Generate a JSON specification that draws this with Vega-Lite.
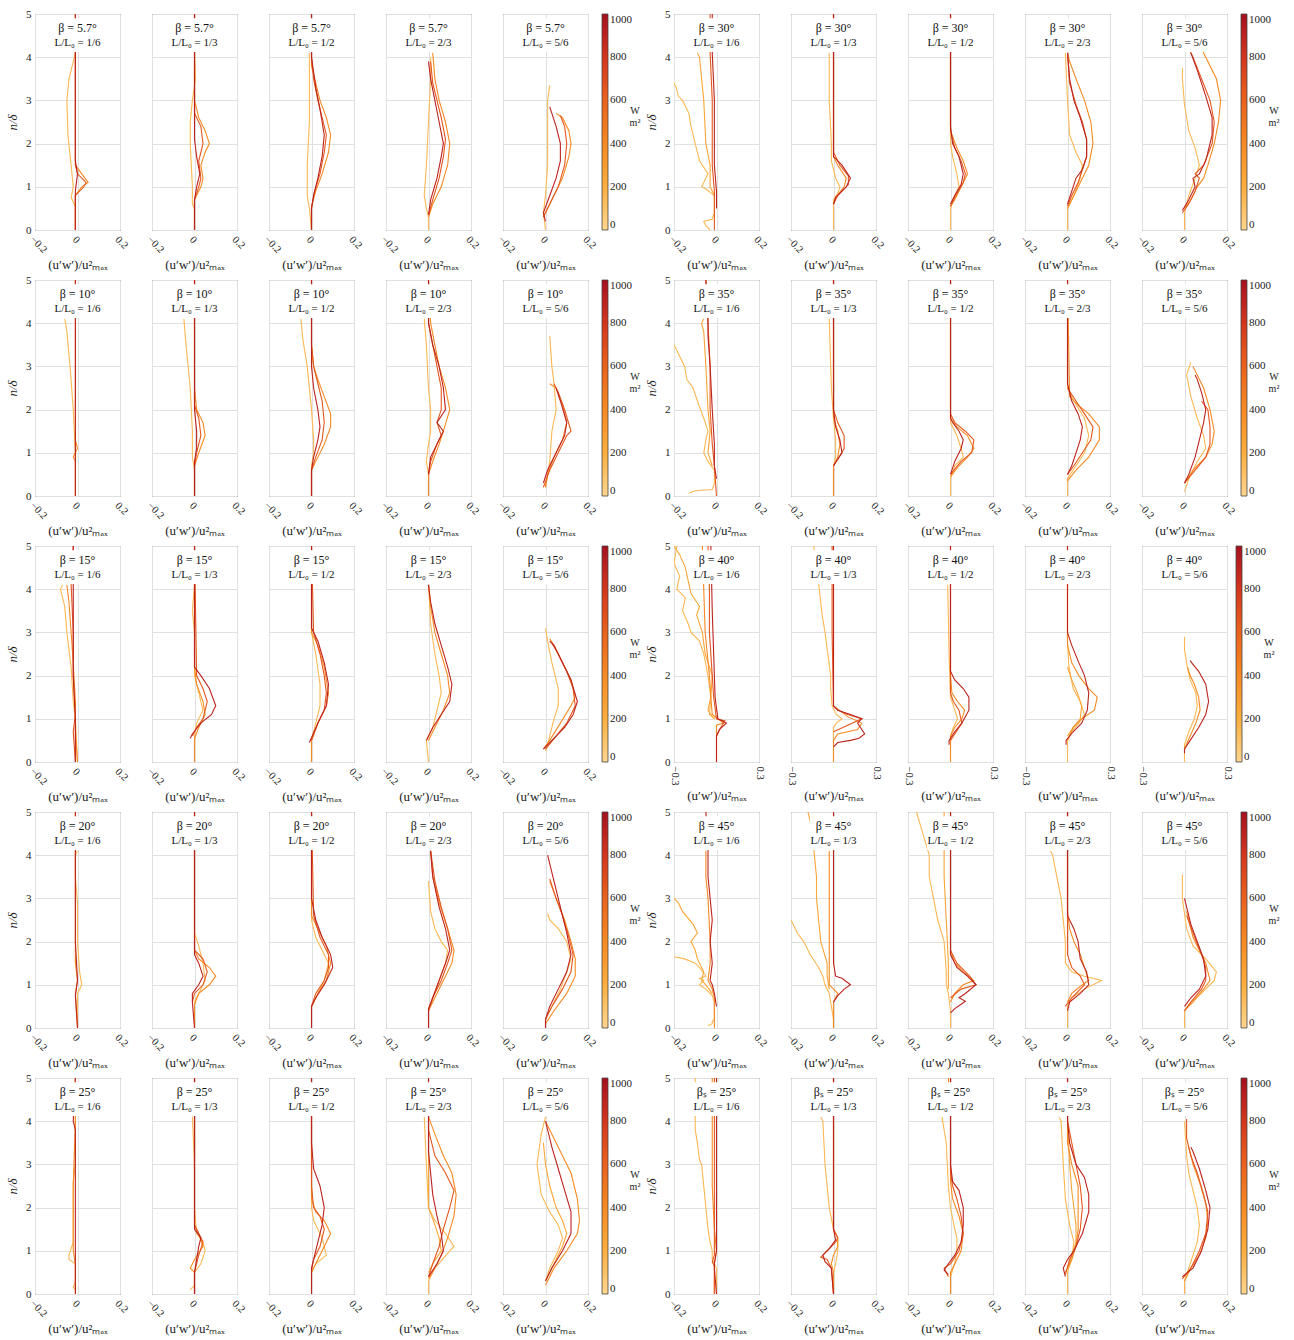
{
"$schema":"https://vega.github.io/schema/vega-lite/v6.json",
"background":"white",
"padding":{"left":6,"top":8,"right":0,"bottom":0},
"config":{
 "font":"Liberation Serif",
 "view":{"stroke":"#444","strokeWidth":1},
 "axis":{"labelFont":"Liberation Serif","titleFont":"Liberation Serif","labelFontSize":11,"titleFontSize":13,"titleFontWeight":"normal","labelColor":"#222","titleColor":"#222","gridColor":"#e0e0e0","domain":false,"ticks":false,"labelPadding":3},
 "axisX":{"labelAngle":45,"titlePadding":4,"labelFontSize":10.5,"labelOverlap":false,"labelSeparation":-60,"labelExpr":"datum.value == 0 ? '0' : datum.label"},
 "axisY":{"titleFontStyle":"italic","titlePadding":6},
 "legend":{"gradientLength":216,"gradientThickness":6,"offset":4,"labelFont":"Liberation Serif","labelFontSize":11,"labelColor":"#222","titleFont":"Liberation Serif","titleFontSize":10,"titleFontWeight":"normal","titleColor":"#222","titleOrient":"right","titleAnchor":"middle","titlePadding":3,"gradientStrokeColor":"#444","gradientStrokeWidth":0.8,"labelOffset":3},
 "text":{"font":"Liberation Serif","color":"#111"}
},
"datasets":{
"fr":[{"c":1,"f":"L/L₀ = 1/6"},{"c":2,"f":"L/L₀ = 1/3"},{"c":3,"f":"L/L₀ = 1/2"},{"c":4,"f":"L/L₀ = 2/3"},{"c":5,"f":"L/L₀ = 5/6"}],
"d":[
{"k":"L1","c":1,"w":150,"x":[-0.01,-0.01,-0.03,-0.02,-0.03,-0.045,-0.05,-0.04,-0.02,-0.01],"y":[0,0.55,0.75,1.0,1.5,2.2,3.0,3.5,3.9,4.1]},
{"k":"L1","c":1,"w":400,"x":[-0.01,-0.01,0.02,0.05,0.02,-0.01,-0.01,-0.01],"y":[0,0.8,1.0,1.1,1.3,1.5,4.0,5]},
{"k":"L1","c":1,"w":650,"x":[-0.01,-0.01,0.03,0.04,0,-0.01,-0.01],"y":[0,0.8,1.0,1.1,1.3,1.5,5]},
{"k":"L1","c":1,"w":900,"x":[-0.01,-0.01,0,-0.01,-0.01],"y":[0,0.9,1.3,1.6,5]},
{"k":"L1","c":2,"w":150,"x":[0,0,-0.01,-0.01,-0.015,-0.02,-0.02,-0.01,0.005,0],"y":[0,0.5,0.6,1.0,1.5,2.0,2.5,3.0,3.5,4.1]},
{"k":"L1","c":2,"w":400,"x":[0,0,0.03,0.04,0.03,0.05,0.07,0.05,0.02,0,0],"y":[0,0.7,1.0,1.2,1.5,1.8,2.0,2.3,2.6,3.0,5]},
{"k":"L1","c":2,"w":650,"x":[0,0,0.02,0.03,0.02,0.04,0.03,0,0],"y":[0,0.7,1.0,1.2,1.6,2.0,2.4,2.7,5]},
{"k":"L1","c":2,"w":900,"x":[0,0,0.01,0.025,0.01,0,0],"y":[0,0.7,1.0,1.3,1.7,2.1,5]},
{"k":"L1","c":3,"w":150,"x":[0,-0.01,-0.02,-0.02,-0.01,-0.01,-0.01],"y":[0,0.5,0.8,1.5,2.5,3.5,4.1]},
{"k":"L1","c":3,"w":400,"x":[0,0,0.02,0.05,0.08,0.09,0.07,0.04,0.02,0,0],"y":[0,0.55,0.9,1.3,1.8,2.2,2.6,3.0,3.4,3.8,5]},
{"k":"L1","c":3,"w":650,"x":[0,0,0.015,0.04,0.06,0.07,0.05,0.03,0.01,0,0],"y":[0,0.5,0.9,1.3,1.8,2.2,2.6,3.0,3.5,4.0,5]},
{"k":"L1","c":3,"w":900,"x":[0,0,0.01,0.03,0.05,0.06,0.04,0.02,0,0],"y":[0,0.5,0.8,1.2,1.7,2.2,2.8,3.3,4.0,5]},
{"k":"L1","c":4,"w":150,"x":[0,0,-0.01,-0.02,-0.01,0,0.01,0.01],"y":[0,0.3,0.5,0.8,1.5,2.5,3.5,4.0]},
{"k":"L1","c":4,"w":400,"x":[0,0.02,0.06,0.09,0.1,0.08,0.05,0.03,0.02],"y":[0.3,0.6,1.0,1.5,2.0,2.5,3.0,3.5,4.1]},
{"k":"L1","c":4,"w":650,"x":[0,0.02,0.05,0.07,0.08,0.06,0.04,0.02,0.01],"y":[0.35,0.7,1.2,1.7,2.1,2.6,3.0,3.4,3.9]},
{"k":"L1","c":4,"w":900,"x":[0,0.01,0.04,0.06,0.07,0.05,0.03,0.01,0],"y":[0.35,0.7,1.2,1.7,2.0,2.5,3.0,3.5,3.9]},
{"k":"L1","c":5,"w":150,"x":[0,-0.01,0,0.01,0.01,0.01,0.02],"y":[0,0.4,0.8,1.5,2.3,3.0,3.35]},
{"k":"L1","c":5,"w":400,"x":[-0.01,0.03,0.08,0.11,0.12,0.11,0.08,0.05],"y":[0.3,0.7,1.2,1.7,2.0,2.3,2.6,2.7]},
{"k":"L1","c":5,"w":650,"x":[-0.01,0.02,0.06,0.09,0.1,0.09,0.07],"y":[0.3,0.6,1.0,1.5,2.0,2.4,2.65]},
{"k":"L1","c":5,"w":900,"x":[0,-0.01,0.02,0.05,0.07,0.07,0.05,0.02],"y":[0.2,0.4,0.8,1.2,1.6,2.0,2.4,2.85]},
{"k":"L2","c":1,"w":150,"x":[-0.01,-0.01,-0.015,-0.02,-0.035,-0.05,-0.06],"y":[0,0.9,1.5,2.0,3.0,3.8,4.1]},
{"k":"L2","c":1,"w":400,"x":[-0.01,-0.01,-0.02,0,-0.01,-0.01],"y":[0,0.8,0.9,1.1,1.3,5]},
{"k":"L2","c":1,"w":900,"x":[-0.01,-0.01],"y":[0,5]},
{"k":"L2","c":2,"w":150,"x":[0,0,-0.01,-0.01,-0.02,-0.04,-0.05],"y":[0,0.6,0.9,1.5,2.5,3.5,4.1]},
{"k":"L2","c":2,"w":400,"x":[0,0,0.02,0.05,0.04,0.01,0,0],"y":[0,0.7,1.0,1.4,1.7,2.0,2.5,5]},
{"k":"L2","c":2,"w":650,"x":[0,0,0.01,0.03,0.02,0,0],"y":[0,0.7,1.0,1.4,1.8,2.1,5]},
{"k":"L2","c":2,"w":900,"x":[0,0,0.01,0.01,0,0],"y":[0,0.8,1.1,1.5,2.0,5]},
{"k":"L2","c":3,"w":150,"x":[0,0,0.01,0.01,0,-0.02,-0.04,-0.05],"y":[0,0.7,1.0,1.3,2.0,3.0,3.6,4.1]},
{"k":"L2","c":3,"w":400,"x":[0,0,0.03,0.06,0.09,0.09,0.06,0.03,0.01,0,0],"y":[0,0.6,0.9,1.2,1.6,1.9,2.3,2.7,3.0,3.5,5]},
{"k":"L2","c":3,"w":650,"x":[0,0,0.02,0.05,0.06,0.05,0.03,0.01,0,0],"y":[0,0.6,0.9,1.3,1.7,2.2,2.6,3.0,3.5,5]},
{"k":"L2","c":3,"w":900,"x":[0,0,0.01,0.03,0.04,0.03,0.01,0,0],"y":[0,0.6,0.9,1.3,1.6,2.0,2.5,3.0,5]},
{"k":"L2","c":4,"w":150,"x":[0,0,-0.01,0,0.01,0.01,0,-0.01,-0.02],"y":[0,0.5,0.8,1.2,1.5,2.0,2.5,3.5,4.1]},
{"k":"L2","c":4,"w":400,"x":[0,0,0.02,0.05,0.07,0.1,0.08,0.05,0.03,0.01,0],"y":[0,0.5,0.8,1.2,1.5,2.0,2.5,3.0,3.5,4.0,5]},
{"k":"L2","c":4,"w":650,"x":[0,0.01,0.04,0.06,0.04,0.06,0.06,0.04,0.02,0,0],"y":[0.5,0.8,1.2,1.4,1.7,2.0,2.5,3.0,3.5,4.0,5]},
{"k":"L2","c":4,"w":900,"x":[0,0.01,0.05,0.07,0.04,0.08,0.07,0.05,0.02,0,0],"y":[0.5,0.9,1.3,1.5,1.7,2.0,2.5,3.0,3.5,4.0,5]},
{"k":"L2","c":5,"w":150,"x":[0,0.02,0.03,0.05,0.04,0.03,0.02],"y":[0.2,0.8,1.5,2.0,2.6,3.0,3.7]},
{"k":"L2","c":5,"w":400,"x":[0,0.01,0.04,0.08,0.1,0.08,0.05,0.02],"y":[0.2,0.5,0.9,1.3,1.7,2.1,2.5,2.6]},
{"k":"L2","c":5,"w":650,"x":[-0.01,0.02,0.06,0.1,0.12,0.09,0.06,0.04],"y":[0.2,0.6,1.0,1.4,1.5,2.0,2.4,2.6]},
{"k":"L2","c":5,"w":900,"x":[-0.01,0.01,0.05,0.09,0.1,0.07,0.05],"y":[0.3,0.6,1.0,1.4,1.7,2.2,2.5]},
{"k":"L3","c":1,"w":150,"x":[0,-0.01,-0.02,-0.03,-0.05,-0.06,-0.08,-0.07],"y":[0,1.0,1.4,2.2,3.0,3.6,4.0,4.1]},
{"k":"L3","c":1,"w":400,"x":[0,-0.01,-0.01,-0.02,-0.03,-0.04,-0.05],"y":[0,0.7,1.4,2.3,3.0,3.7,4.1]},
{"k":"L3","c":1,"w":650,"x":[-0.01,-0.02,-0.01,-0.02,-0.02,-0.03,-0.02],"y":[0,0.7,1.1,2.0,3.0,4.1,5]},
{"k":"L3","c":1,"w":900,"x":[-0.01,-0.01,-0.02,-0.02,-0.02,-0.02],"y":[0,1.0,2.0,3.0,4.1,5]},
{"k":"L3","c":2,"w":150,"x":[0,0,0.01,0.04,0.02,0,0,-0.01,0],"y":[0,0.6,0.9,1.2,1.6,2.0,3.0,3.5,4.1]},
{"k":"L3","c":2,"w":400,"x":[0,0,0.02,0.05,0.04,0.01,0,0],"y":[0,0.55,0.8,1.1,1.4,1.8,2.2,5]},
{"k":"L3","c":2,"w":650,"x":[-0.01,0.01,0.04,0.06,0.04,0.01,0],"y":[0.6,0.8,1.0,1.4,1.7,2.0,5]},
{"k":"L3","c":2,"w":900,"x":[-0.02,-0.01,0.03,0.08,0.1,0.07,0.03,0,0],"y":[0.55,0.65,0.9,1.1,1.3,1.7,2.0,2.2,5]},
{"k":"L3","c":3,"w":150,"x":[0,0,0.02,0.04,0.04,0.02,0,0],"y":[0,0.5,0.9,1.3,1.8,2.5,3.0,4.1]},
{"k":"L3","c":3,"w":400,"x":[0,0,0.03,0.07,0.08,0.06,0.03,0,0],"y":[0,0.5,0.9,1.3,1.6,2.2,2.7,3.0,5]},
{"k":"L3","c":3,"w":650,"x":[0,0.03,0.06,0.07,0.06,0.04,0.01,0],"y":[0.5,0.9,1.2,1.6,2.0,2.5,3.0,5]},
{"k":"L3","c":3,"w":900,"x":[-0.01,0.03,0.07,0.08,0.06,0.03,0,0],"y":[0.45,0.9,1.3,1.8,2.3,2.8,3.1,5]},
{"k":"L3","c":4,"w":150,"x":[0,-0.01,0.02,0.04,0.06,0.05,0.03,0.01,0],"y":[0,0.5,0.8,1.2,1.6,2.0,2.5,3.2,4.1]},
{"k":"L3","c":4,"w":400,"x":[0,0.03,0.07,0.1,0.09,0.06,0.03,0.01,0],"y":[0.5,0.8,1.2,1.6,2.0,2.5,3.0,3.6,4.1]},
{"k":"L3","c":4,"w":900,"x":[-0.01,0.02,0.06,0.1,0.11,0.09,0.06,0.03,0.01,0],"y":[0.5,0.8,1.1,1.4,1.8,2.2,2.7,3.2,3.7,4.1]},
{"k":"L3","c":5,"w":150,"x":[0,0.02,0.04,0.06,0.06,0.03,0.01,0],"y":[0.25,0.6,1.0,1.3,1.7,2.3,2.8,3.1]},
{"k":"L3","c":5,"w":400,"x":[-0.01,0.02,0.07,0.12,0.14,0.12,0.08,0.04,0.02],"y":[0.3,0.5,0.9,1.3,1.5,1.9,2.3,2.7,2.85]},
{"k":"L3","c":5,"w":650,"x":[0,0.05,0.1,0.14,0.13,0.1,0.06,0.03],"y":[0.3,0.6,0.9,1.3,1.7,2.1,2.5,2.75]},
{"k":"L3","c":5,"w":900,"x":[-0.01,0.03,0.09,0.13,0.15,0.12,0.08,0.04,0.02],"y":[0.3,0.5,0.8,1.1,1.4,1.9,2.3,2.7,2.8]},
{"k":"L4","c":1,"w":150,"x":[0,0,0.02,0.01,0,0,-0.01,-0.01,0],"y":[0,0.8,1.0,1.3,2.0,2.9,3.5,4.0,4.1]},
{"k":"L4","c":1,"w":400,"x":[0,-0.01,0,-0.01,-0.01],"y":[0,0.8,1.1,1.5,5]},
{"k":"L4","c":1,"w":900,"x":[0,-0.01,0,-0.01,-0.01],"y":[0,0.75,1.1,2.0,5]},
{"k":"L4","c":2,"w":150,"x":[0,0,0.02,0.05,0.04,0.02,0,0],"y":[0,0.6,0.8,1.1,1.5,1.9,2.2,4.1]},
{"k":"L4","c":2,"w":400,"x":[0,0,0.02,0.07,0.1,0.07,0.02,0,0],"y":[0,0.55,0.8,1.0,1.2,1.4,1.6,1.8,5]},
{"k":"L4","c":2,"w":650,"x":[-0.01,0,0.04,0.06,0.04,0,0],"y":[0.6,0.8,1.0,1.3,1.6,1.8,5]},
{"k":"L4","c":2,"w":900,"x":[0,-0.01,-0.01,0.02,0.04,0.02,0,0],"y":[0,0.6,0.8,1.0,1.2,1.5,1.7,5]},
{"k":"L4","c":3,"w":150,"x":[0,0,0.03,0.06,0.08,0.05,0.02,0,0],"y":[0,0.5,0.8,1.1,1.5,1.8,2.1,2.5,4.1]},
{"k":"L4","c":3,"w":400,"x":[0,0.03,0.07,0.09,0.07,0.03,0,0],"y":[0.5,0.8,1.1,1.5,1.9,2.3,2.6,5]},
{"k":"L4","c":3,"w":650,"x":[0,0.02,0.06,0.08,0.08,0.04,0.01,0],"y":[0.5,0.8,1.1,1.4,1.7,2.1,2.6,5]},
{"k":"L4","c":3,"w":900,"x":[0,0,0.02,0.06,0.1,0.09,0.05,0.02,0,0],"y":[0,0.5,0.7,1.0,1.4,1.7,2.1,2.5,3.0,5]},
{"k":"L4","c":4,"w":150,"x":[0,0,0.02,0.05,0.08,0.09,0.06,0.03,0.01,0],"y":[0,0.4,0.7,1.1,1.5,1.8,2.0,2.3,2.7,3.4]},
{"k":"L4","c":4,"w":400,"x":[0,0.03,0.07,0.11,0.12,0.09,0.05,0.02,0.01],"y":[0.4,0.7,1.1,1.5,1.8,2.3,2.9,3.5,4.1]},
{"k":"L4","c":4,"w":650,"x":[0,0.02,0.06,0.09,0.11,0.09,0.06,0.03,0.01],"y":[0.4,0.7,1.1,1.5,1.8,2.3,2.8,3.4,4.1]},
{"k":"L4","c":4,"w":900,"x":[0,0,0.02,0.05,0.08,0.1,0.08,0.05,0.02,0.01],"y":[0,0.45,0.7,1.1,1.5,1.8,2.3,2.8,3.5,4.1]},
{"k":"L4","c":5,"w":150,"x":[0,0,0.03,0.07,0.1,0.12,0.1,0.06,0.02,0.01],"y":[0,0.2,0.5,0.9,1.3,1.6,2.0,2.3,2.5,2.65]},
{"k":"L4","c":5,"w":400,"x":[0,0.04,0.1,0.14,0.14,0.12,0.09,0.05,0.02],"y":[0.1,0.4,0.8,1.2,1.6,2.0,2.5,3.0,3.4]},
{"k":"L4","c":5,"w":650,"x":[0,0.03,0.08,0.12,0.13,0.11,0.08,0.05,0.02],"y":[0.2,0.5,0.9,1.3,1.7,2.1,2.6,3.0,3.45]},
{"k":"L4","c":5,"w":900,"x":[0,0,0.02,0.06,0.1,0.12,0.1,0.07,0.04,0.01],"y":[0,0.2,0.5,0.9,1.3,1.7,2.2,2.8,3.4,4.0]},
{"k":"L5","c":1,"w":150,"x":[-0.01,-0.02,-0.01,-0.01,-0.04,-0.04,-0.02,-0.02,-0.02,-0.01,-0.01],"y":[0.1,0.15,0.3,0.7,0.8,0.9,1.2,2.0,2.6,3.0,4.1]},
{"k":"L5","c":1,"w":400,"x":[-0.01,-0.01,-0.02,-0.02,-0.01,-0.01],"y":[0,0.7,1.0,2.5,4.0,5]},
{"k":"L5","c":1,"w":900,"x":[-0.01,-0.01,-0.02,-0.01],"y":[0,3.8,4.0,5]},
{"k":"L5","c":2,"w":150,"x":[-0.02,0,0,0.03,0.05,0.04,0.01,0,0,-0.01],"y":[0.1,0.2,0.5,0.7,1.0,1.2,1.4,2.0,3.0,4.1]},
{"k":"L5","c":2,"w":400,"x":[0,0,-0.02,0,0.04,0.02,0,0],"y":[0,0.5,0.6,0.8,1.1,1.4,1.6,5]},
{"k":"L5","c":2,"w":650,"x":[0,0,0.02,0.04,0.02,0,0],"y":[0,0.5,0.9,1.2,1.4,1.6,5]},
{"k":"L5","c":2,"w":900,"x":[0,0,0.01,0.02,0.03,0,0],"y":[0,0.5,0.8,1.1,1.3,1.5,5]},
{"k":"L5","c":3,"w":150,"x":[0,0,0.02,0.07,0.05,0.01,0,0],"y":[0,0.5,0.7,0.9,1.3,1.7,2.0,4.1]},
{"k":"L5","c":3,"w":400,"x":[0,0.03,0.06,0.09,0.06,0.02,0,0],"y":[0.5,0.8,1.1,1.4,1.7,1.9,2.2,5]},
{"k":"L5","c":3,"w":650,"x":[0,0.01,0.04,0.06,0.04,0.01,0,0],"y":[0.55,0.8,1.1,1.5,1.8,2.0,2.5,5]},
{"k":"L5","c":3,"w":900,"x":[0,0,0.01,0.03,0.05,0.06,0.04,0.01,0,0],"y":[0,0.6,0.8,1.2,1.6,2.0,2.5,2.9,3.5,5]},
{"k":"L5","c":4,"w":150,"x":[0,0,0.03,0.1,0.12,0.08,0.03,0,-0.01,-0.02],"y":[0,0.3,0.6,1.0,1.1,1.4,1.7,2.0,3.0,4.1]},
{"k":"L5","c":4,"w":250,"x":[0,0.02,0.06,0.05,0.03,0,0],"y":[0.5,0.7,1.0,1.3,1.6,2.0,4.1]},
{"k":"L5","c":4,"w":400,"x":[0,0.03,0.06,0.09,0.12,0.13,0.11,0.07,0.03,0],"y":[0.35,0.6,0.9,1.3,1.8,2.3,2.8,3.2,3.7,4.1]},
{"k":"L5","c":4,"w":650,"x":[0,0.02,0.05,0.07,0.1,0.12,0.08,0.03,0],"y":[0.4,0.7,1.1,1.5,2.0,2.4,2.8,3.2,3.8]},
{"k":"L5","c":4,"w":900,"x":[0,0.04,0.07,0.06,0.04,0.02,0.01,0,0],"y":[0.4,0.7,1.0,1.4,1.8,2.3,2.8,3.3,5]},
{"k":"L5","c":5,"w":150,"x":[0,0.02,0.06,0.08,0.06,0.02,-0.02,-0.04,-0.02,0],"y":[0.3,0.6,1.0,1.3,1.6,1.9,2.3,3.0,3.7,4.1]},
{"k":"L5","c":5,"w":250,"x":[0,0.04,0.08,0.1,0.08,0.05,0.02,0,-0.01],"y":[0.3,0.7,1.1,1.4,1.7,2.0,2.5,3.0,3.5]},
{"k":"L5","c":5,"w":400,"x":[0,0.04,0.1,0.15,0.16,0.15,0.12,0.07,0.03,0],"y":[0.2,0.6,1.0,1.4,1.7,2.2,2.8,3.3,3.7,4.0]},
{"k":"L5","c":5,"w":900,"x":[0,0.03,0.08,0.12,0.12,0.09,0.06,0.03,0],"y":[0.3,0.6,1.0,1.4,1.9,2.4,2.9,3.4,4.0]},
{"k":"R1","c":1,"w":150,"x":[-0.03,-0.05,-0.06,-0.02,-0.01,-0.01,-0.05,-0.07,-0.06,-0.04,-0.08,-0.1,-0.12,-0.13,-0.16,-0.18,-0.19,-0.2],"y":[0,0.1,0.2,0.25,0.4,0.8,0.95,1.0,1.1,1.3,1.6,2.0,2.4,2.7,3.0,3.1,3.3,3.4]},
{"k":"R1","c":1,"w":250,"x":[-0.01,-0.03,-0.03,-0.05,-0.06,-0.07,-0.08,-0.09],"y":[0.8,1.0,1.5,2.0,3.0,3.5,4.0,4.1]},
{"k":"R1","c":1,"w":650,"x":[-0.01,-0.01,-0.02,-0.02,-0.03,-0.03],"y":[0,0.9,1.5,3.0,4.1,5]},
{"k":"R1","c":1,"w":900,"x":[0,0,-0.01,-0.01,-0.02,-0.02],"y":[0.5,0.9,1.5,3.0,4.1,5]},
{"k":"R1","c":2,"w":150,"x":[0,0,0.02,0.03,0.01,-0.01,-0.01,-0.02,-0.02],"y":[0,0.7,0.85,1.0,1.2,1.6,2.0,3.0,4.1]},
{"k":"R1","c":2,"w":400,"x":[0,0.01,0.05,0.06,0.02,0,0],"y":[0.6,0.75,1.0,1.2,1.5,1.7,5]},
{"k":"R1","c":2,"w":650,"x":[0,0.02,0.07,0.07,0.03,0,0],"y":[0.6,0.8,1.05,1.25,1.5,1.8,5]},
{"k":"R1","c":2,"w":900,"x":[0,0.01,0.06,0.08,0.04,0,0],"y":[0.6,0.75,1.0,1.2,1.5,1.7,5]},
{"k":"R1","c":3,"w":150,"x":[0,0,0.02,0.04,0.03,0.01,0,0],"y":[0,0.5,0.8,1.0,1.3,1.7,2.0,4.1]},
{"k":"R1","c":3,"w":400,"x":[0,0.02,0.05,0.08,0.06,0.03,0,0],"y":[0.55,0.7,1.0,1.3,1.6,1.9,2.3,5]},
{"k":"R1","c":3,"w":650,"x":[0,0.02,0.06,0.07,0.05,0.02,0,0],"y":[0.55,0.75,1.1,1.3,1.6,1.9,2.3,5]},
{"k":"R1","c":3,"w":900,"x":[0,0.02,0.05,0.06,0.04,0.01,0,0],"y":[0.6,0.8,1.05,1.3,1.7,2.0,2.4,5]},
{"k":"R1","c":4,"w":150,"x":[0,0,0.03,0.06,0.07,0.04,0.01,0,-0.01],"y":[0,0.5,0.8,1.2,1.5,1.8,2.2,3.0,4.1]},
{"k":"R1","c":4,"w":400,"x":[0,0.03,0.07,0.1,0.12,0.11,0.08,0.04,0.01,0],"y":[0.5,0.8,1.2,1.5,2.0,2.5,3.0,3.5,3.9,4.1]},
{"k":"R1","c":4,"w":650,"x":[0,0.02,0.05,0.07,0.09,0.09,0.07,0.04,0.01,0],"y":[0.55,0.8,1.1,1.4,1.7,2.1,2.5,2.9,3.4,4.1]},
{"k":"R1","c":4,"w":900,"x":[0,0.02,0.04,0.07,0.09,0.09,0.06,0.03,0.01,0],"y":[0.6,0.9,1.2,1.4,1.7,2.1,2.6,3.0,3.5,4.1]},
{"k":"R1","c":5,"w":150,"x":[0,0,0.02,0.05,0.07,0.05,0.02,0,-0.01,-0.01],"y":[0,0.4,0.8,1.2,1.5,1.9,2.3,2.9,3.5,3.75]},
{"k":"R1","c":5,"w":400,"x":[0,0.03,0.06,0.09,0.11,0.14,0.16,0.17,0.15,0.1,0.06,0.04],"y":[0.5,0.7,1.0,1.2,1.5,2.0,2.5,3.0,3.5,4.0,4.4,4.5]},
{"k":"R1","c":5,"w":650,"x":[-0.01,0.02,0.05,0.07,0.05,0.09,0.13,0.14,0.12,0.08,0.04,0.02],"y":[0.4,0.6,0.9,1.2,1.3,1.5,2.0,2.5,3.0,3.5,4.0,4.2]},
{"k":"R1","c":5,"w":900,"x":[-0.01,0.02,0.05,0.04,0.07,0.1,0.13,0.13,0.1,0.06,0.03],"y":[0.45,0.7,1.0,1.2,1.3,1.6,2.2,2.6,3.1,3.7,4.1]},
{"k":"R2","c":1,"w":150,"x":[-0.13,-0.1,-0.02,-0.01,-0.01,-0.04,-0.06,-0.05,-0.04,-0.06,-0.09,-0.11,-0.14,-0.15,-0.17,-0.19,-0.2],"y":[0.07,0.12,0.15,0.3,0.6,0.8,1.0,1.3,1.5,1.8,2.2,2.5,2.7,3.0,3.2,3.4,3.5]},
{"k":"R2","c":1,"w":250,"x":[-0.02,-0.04,-0.03,-0.04,-0.05,-0.06,-0.07,-0.06],"y":[0.7,1.0,1.5,2.0,3.0,3.8,4.0,4.1]},
{"k":"R2","c":1,"w":650,"x":[0,-0.01,-0.02,-0.03,-0.03,-0.04,-0.05],"y":[0,0.7,1.2,2.0,3.0,4.0,5]},
{"k":"R2","c":1,"w":900,"x":[0,-0.01,-0.01,-0.02,-0.03,-0.04,-0.04,-0.05],"y":[0.4,0.7,1.2,2.0,3.0,3.7,4.1,5]},
{"k":"R2","c":2,"w":150,"x":[0,0,0.01,0.01,0,-0.01,-0.02],"y":[0,0.7,0.9,1.3,1.8,2.5,4.1]},
{"k":"R2","c":2,"w":400,"x":[0,0,0.02,0.03,0.02,0,0],"y":[0,0.7,0.9,1.2,1.5,1.8,5]},
{"k":"R2","c":2,"w":650,"x":[0,0.02,0.05,0.05,0.02,0,0],"y":[0.7,0.85,1.1,1.4,1.7,2.0,5]},
{"k":"R2","c":2,"w":900,"x":[0,0.02,0.04,0.03,0.01,0,0],"y":[0.7,0.85,1.0,1.3,1.6,2.0,5]},
{"k":"R2","c":3,"w":150,"x":[0,0,0.02,0.06,0.05,0.03,0,0],"y":[0,0.4,0.7,0.9,1.1,1.4,1.7,5]},
{"k":"R2","c":3,"w":400,"x":[0,0.04,0.08,0.11,0.08,0.03,0,0],"y":[0.45,0.7,0.9,1.1,1.4,1.6,1.8,5]},
{"k":"R2","c":3,"w":650,"x":[0,0.05,0.1,0.11,0.07,0.02,0],"y":[0.5,0.8,1.0,1.3,1.5,1.7,1.9]},
{"k":"R2","c":3,"w":900,"x":[0,0.02,0.05,0.06,0.04,0.01,0,0],"y":[0.5,0.8,1.1,1.3,1.5,1.7,1.8,5]},
{"k":"R2","c":4,"w":150,"x":[0,0,0.04,0.08,0.1,0.08,0.03,0,0],"y":[0,0.4,0.7,1.0,1.4,1.8,2.2,2.5,5]},
{"k":"R2","c":4,"w":400,"x":[0,0.04,0.1,0.15,0.15,0.1,0.05,0.01,0],"y":[0.35,0.6,0.9,1.3,1.6,1.9,2.1,2.3,5]},
{"k":"R2","c":4,"w":650,"x":[0,0.03,0.07,0.11,0.12,0.08,0.04,0],"y":[0.5,0.7,1.0,1.3,1.6,1.9,2.2,2.5]},
{"k":"R2","c":4,"w":900,"x":[0,0.02,0.04,0.06,0.07,0.05,0.02,0,0],"y":[0.5,0.7,1.0,1.3,1.6,1.9,2.2,2.6,5]},
{"k":"R2","c":5,"w":150,"x":[0,0.02,0.06,0.1,0.09,0.06,0.03,0.01,0.03],"y":[0.1,0.4,0.8,1.1,1.4,1.8,2.3,2.8,3.1]},
{"k":"R2","c":5,"w":400,"x":[0,0.04,0.1,0.13,0.14,0.12,0.09,0.06,0.04],"y":[0.3,0.6,0.9,1.2,1.5,2.0,2.5,2.8,3.0]},
{"k":"R2","c":5,"w":650,"x":[0,0.05,0.1,0.12,0.12,0.11,0.08],"y":[0.3,0.6,0.9,1.2,1.6,2.0,2.2]},
{"k":"R2","c":5,"w":900,"x":[0,0.02,0.05,0.07,0.09,0.1,0.08,0.06,0.05],"y":[0.3,0.5,0.9,1.3,1.7,2.0,2.4,2.7,2.8]},
{"k":"R3","c":1,"w":150,"x":[-0.01,-0.05,-0.04,-0.06,-0.09,-0.12,-0.18,-0.2,-0.24,-0.22,-0.28,-0.26,-0.3,-0.28],"y":[1.0,1.1,1.5,2.0,2.5,2.8,3.0,3.2,3.5,3.8,4.0,4.3,4.6,5.0]},
{"k":"R3","c":1,"w":250,"x":[-0.02,-0.06,-0.04,-0.03,-0.08,-0.1,-0.14,-0.12,-0.18,-0.2,-0.22,-0.26,-0.3],"y":[1.0,1.2,1.5,2.0,2.5,3.0,3.4,3.6,3.9,4.2,4.5,4.8,5.0]},
{"k":"R3","c":1,"w":400,"x":[0,0,0.05,-0.03,-0.04,-0.05,-0.08,-0.09,-0.1],"y":[0,0.85,0.9,1.1,1.5,2.0,3.0,4.0,5]},
{"k":"R3","c":1,"w":650,"x":[0,0.03,0.06,0,-0.02,-0.03,-0.05,-0.05,-0.06],"y":[0.6,0.8,0.95,1.0,1.5,2.0,3.0,4.0,5]},
{"k":"R3","c":1,"w":900,"x":[0,0,0.02,0.07,0.01,-0.01,-0.02,-0.03,-0.04],"y":[0,0.6,0.75,0.9,1.0,1.5,2.5,3.5,5]},
{"k":"R3","c":2,"w":150,"x":[0,0,0.02,0.06,0.02,-0.01,-0.02,-0.02,-0.04,-0.06,-0.08,-0.1,-0.12,-0.14],"y":[0,0.8,0.9,1.0,1.1,1.3,1.7,2.0,2.5,3.0,3.4,4.0,4.5,5.0]},
{"k":"R3","c":2,"w":400,"x":[0,0,0.03,0.1,0.17,0.2,0.1,0.04,0,0],"y":[0,0.5,0.65,0.7,0.75,0.9,1.05,1.2,1.3,5]},
{"k":"R3","c":2,"w":650,"x":[0,0.1,0.2,0.1,0.03,0,-0.01,-0.01],"y":[0.7,0.85,1.0,1.1,1.2,1.3,3.0,5]},
{"k":"R3","c":2,"w":900,"x":[0,0.03,0.12,0.18,0.22,0.19,0.17,0.2,0.12,0.03,0,0],"y":[0.35,0.45,0.5,0.55,0.65,0.8,0.9,1.0,1.1,1.2,1.3,5]},
{"k":"R3","c":3,"w":150,"x":[0,0,0.02,0.05,0.03,0,-0.01,-0.02],"y":[0,0.6,0.8,1.0,1.2,1.5,2.5,4.1]},
{"k":"R3","c":3,"w":400,"x":[0,0,0.03,0.08,0.1,0.05,0.01,0,0],"y":[0,0.6,0.8,1.0,1.2,1.4,1.6,2.0,5]},
{"k":"R3","c":3,"w":650,"x":[0,0.05,0.08,0.06,0.02,0,0],"y":[0.5,0.75,0.9,1.2,1.4,1.6,5]},
{"k":"R3","c":3,"w":900,"x":[-0.01,-0.01,0.03,0.08,0.13,0.13,0.09,0.03,0,0],"y":[0.4,0.5,0.7,0.9,1.2,1.5,1.7,1.9,2.1,5]},
{"k":"R3","c":4,"w":150,"x":[0,0,0.03,0.08,0.12,0.09,0.04,0.01,0,0],"y":[0,0.5,0.7,0.9,1.1,1.4,1.7,2.2,2.8,4.1]},
{"k":"R3","c":4,"w":250,"x":[0,0.04,0.09,0.1,0.07,0.03,0],"y":[0.6,0.8,1.0,1.3,1.6,1.9,2.2]},
{"k":"R3","c":4,"w":400,"x":[0,0.04,0.1,0.19,0.21,0.15,0.08,0.03,0,0],"y":[0.5,0.8,1.0,1.2,1.5,1.7,2.0,2.3,2.7,5]},
{"k":"R3","c":4,"w":900,"x":[-0.01,-0.01,0.04,0.1,0.14,0.15,0.12,0.08,0.03,0,0],"y":[0.4,0.5,0.7,0.9,1.2,1.6,2.0,2.3,2.7,3.0,5]},
{"k":"R3","c":5,"w":150,"x":[0,0,0.03,0.07,0.09,0.08,0.04,0.02,0,0],"y":[0,0.4,0.7,1.0,1.3,1.6,1.9,2.2,2.6,2.9]},
{"k":"R3","c":5,"w":400,"x":[0,0.04,0.08,0.11,0.1,0.07,0.04,0.02],"y":[0.3,0.6,0.9,1.2,1.5,1.8,2.0,2.2]},
{"k":"R3","c":5,"w":900,"x":[0,0,0.04,0.1,0.15,0.17,0.15,0.1,0.05,0.04],"y":[0.2,0.3,0.5,0.8,1.1,1.4,1.8,2.1,2.3,2.35]},
{"k":"R4","c":1,"w":150,"x":[-0.04,-0.02,-0.02,-0.01,-0.01,-0.02,-0.05,-0.08,-0.06,-0.08,-0.05,-0.08,-0.1,-0.15,-0.2],"y":[0.05,0.1,0.15,0.2,0.6,0.75,0.9,1.0,1.1,1.15,1.2,1.4,1.5,1.6,1.65]},
{"k":"R4","c":1,"w":250,"x":[-0.02,-0.05,-0.07,-0.06,-0.09,-0.1,-0.12,-0.09,-0.11,-0.16,-0.18,-0.2],"y":[0.8,1.0,1.1,1.3,1.6,1.8,2.0,2.2,2.4,2.7,2.9,3.0]},
{"k":"R4","c":1,"w":400,"x":[-0.01,-0.01,-0.02,-0.04,-0.03,-0.03,-0.04,-0.05,-0.05],"y":[0,0.7,0.9,1.1,1.5,2.0,3.0,3.5,4.1]},
{"k":"R4","c":1,"w":900,"x":[0,-0.01,-0.02,-0.03,-0.02,-0.03,-0.02,-0.03,-0.04,-0.04,-0.05],"y":[0.5,0.8,1.0,1.1,1.5,2.0,2.5,3.0,3.5,4.1,5]},
{"k":"R4","c":2,"w":150,"x":[0,0,-0.01,-0.02,-0.04,-0.05,-0.07,-0.11,-0.14,-0.17,-0.19,-0.2],"y":[0,0.2,0.5,0.8,1.0,1.2,1.4,1.7,2.0,2.2,2.4,2.5]},
{"k":"R4","c":2,"w":250,"x":[-0.02,-0.03,-0.03,-0.06,-0.07,-0.08,-0.08,-0.09,-0.1,-0.12],"y":[0.9,1.2,1.5,2.0,2.5,3.0,3.5,4.0,4.6,5]},
{"k":"R4","c":2,"w":400,"x":[0,0,0.02,0,-0.02,-0.02,-0.02,-0.02],"y":[0,0.6,0.8,0.9,1.0,1.5,2.5,4.1]},
{"k":"R4","c":2,"w":900,"x":[0,0.02,0.05,0.08,0.04,0.01,0,0],"y":[0.6,0.75,0.9,1.0,1.15,1.2,1.5,5]},
{"k":"R4","c":3,"w":150,"x":[0,0,-0.01,-0.02,-0.02,-0.03,-0.06,-0.08,-0.1,-0.1,-0.13,-0.16],"y":[0,0.4,0.8,1.0,1.3,2.0,2.5,3.0,3.5,4.0,4.5,5.0]},
{"k":"R4","c":3,"w":250,"x":[-0.01,-0.01,-0.02,-0.03,-0.03,-0.03],"y":[0.9,1.5,2.5,3.5,4.1,5]},
{"k":"R4","c":3,"w":400,"x":[0,0.02,0.06,0.11,0.06,0.02,0,0],"y":[0.6,0.8,1.0,1.1,1.3,1.5,1.8,5]},
{"k":"R4","c":3,"w":650,"x":[0,0.05,0.12,0.09,0.03,0],"y":[0.7,0.9,1.0,1.2,1.5,1.8]},
{"k":"R4","c":3,"w":900,"x":[0,0.02,0.05,0.07,0.04,0.07,0.12,0.08,0.03,0,0],"y":[0.35,0.45,0.55,0.62,0.7,0.8,1.0,1.2,1.4,1.7,5]},
{"k":"R4","c":4,"w":150,"x":[0,0,0.02,0.08,0.12,0.16,0.08,0.02,-0.01,-0.01,-0.03,-0.05,-0.07,-0.08],"y":[0,0.5,0.7,0.9,1.0,1.1,1.2,1.3,1.5,2.0,3.0,3.5,4.0,4.1]},
{"k":"R4","c":4,"w":400,"x":[0,0.02,0.07,0.1,0.08,0.06,0.03,0.01,0,0],"y":[0.6,0.8,1.0,1.1,1.4,1.7,2.0,2.3,2.7,5]},
{"k":"R4","c":4,"w":650,"x":[-0.01,0.02,0.05,0.08,0.06,0.02,0,0],"y":[0.5,0.7,0.85,1.0,1.2,1.4,1.7,5]},
{"k":"R4","c":4,"w":900,"x":[0,0.01,0.06,0.1,0.09,0.06,0.05,0.03,0,0],"y":[0.4,0.6,0.8,1.0,1.3,1.6,2.0,2.3,2.6,5]},
{"k":"R4","c":5,"w":150,"x":[0,0,0.03,0.08,0.14,0.15,0.1,0.04,0.01,-0.01,-0.01],"y":[0,0.4,0.6,0.8,1.1,1.3,1.6,1.9,2.3,3.0,3.55]},
{"k":"R4","c":5,"w":400,"x":[0,0.04,0.09,0.12,0.1,0.07,0.04,0.02,0.01],"y":[0.4,0.6,0.9,1.1,1.5,1.8,2.1,2.5,2.7]},
{"k":"R4","c":5,"w":650,"x":[0,0.03,0.08,0.1,0.1,0.08,0.04,0.01],"y":[0.4,0.6,0.9,1.1,1.4,1.7,2.2,2.6]},
{"k":"R4","c":5,"w":900,"x":[0,0.03,0.07,0.1,0.09,0.06,0.03,0.01,0],"y":[0.5,0.7,0.9,1.2,1.6,2.0,2.4,2.8,3.0]},
{"k":"R5","c":1,"w":150,"x":[0,0,-0.02,-0.02,-0.03,-0.04,-0.05,-0.06,-0.07,-0.08,-0.09,-0.1,-0.1,-0.1],"y":[0,0.6,0.8,1.0,1.2,1.5,2.0,2.5,3.0,3.1,3.5,3.8,4.1,5]},
{"k":"R5","c":1,"w":400,"x":[-0.01,-0.01,0,-0.01,-0.02,-0.02,-0.02],"y":[0,0.7,1.0,1.5,2.5,4.0,5]},
{"k":"R5","c":1,"w":650,"x":[-0.01,-0.01,-0.02,-0.01,-0.01],"y":[0,0.65,0.75,0.9,5]},
{"k":"R5","c":1,"w":900,"x":[0,-0.01,-0.01,0,0,0],"y":[0,0.6,0.7,1.0,2,5]},
{"k":"R5","c":2,"w":150,"x":[0,0,0.01,0.02,0.02,0,-0.02,-0.04,-0.05,-0.06],"y":[0,0.5,0.7,1.0,1.3,1.5,2.0,3.0,4.0,4.1]},
{"k":"R5","c":2,"w":400,"x":[0,0,-0.01,0,0.02,0.02,0,0],"y":[0,0.5,0.7,0.9,1.1,1.3,1.5,5]},
{"k":"R5","c":2,"w":650,"x":[0,-0.01,-0.03,-0.06,-0.03,0.01,0.02,0,0],"y":[0,0.6,0.8,0.85,1.0,1.2,1.3,1.5,5]},
{"k":"R5","c":2,"w":900,"x":[0,-0.01,-0.04,-0.05,-0.02,0.01,0,0],"y":[0,0.6,0.75,0.9,1.05,1.25,1.5,5]},
{"k":"R5","c":3,"w":150,"x":[0,0,0.02,0.03,0.03,0.02,0,-0.01,-0.02,-0.04],"y":[0,0.4,0.7,1.0,1.3,1.5,2.0,2.5,3.5,4.1]},
{"k":"R5","c":3,"w":400,"x":[0,0,0.02,0.05,0.06,0.04,0.01,0,0,-0.01],"y":[0,0.5,0.7,1.0,1.4,1.8,2.2,2.6,4.1,5]},
{"k":"R5","c":3,"w":650,"x":[-0.01,-0.03,0,0.04,0.06,0.05,0.03,0.01,0,0],"y":[0.4,0.6,0.7,1.0,1.4,1.8,2.2,2.5,2.8,5]},
{"k":"R5","c":3,"w":900,"x":[-0.01,-0.03,-0.01,0.02,0.05,0.06,0.06,0.04,0.01,0,0],"y":[0.45,0.55,0.7,0.9,1.2,1.6,2.0,2.4,2.6,3.0,5]},
{"k":"R5","c":4,"w":150,"x":[0,0,0.02,0.03,0.01,-0.01,-0.02,-0.03,-0.04],"y":[0,0.5,0.8,1.2,1.6,2.2,3.0,4.0,4.1]},
{"k":"R5","c":4,"w":250,"x":[0,0.02,0.04,0.04,0.03,0.02,0.01,0],"y":[0.6,0.9,1.2,1.6,2.0,2.4,3.0,4.1]},
{"k":"R5","c":4,"w":400,"x":[-0.01,0.02,0.04,0.05,0.05,0.05,0.02,0,0],"y":[0.5,0.8,1.1,1.5,2.0,2.5,3.0,3.5,5]},
{"k":"R5","c":4,"w":650,"x":[-0.01,0.01,0.04,0.06,0.07,0.06,0.04,0.02,0],"y":[0.45,0.8,1.1,1.5,2.0,2.5,3.0,3.5,4.0]},
{"k":"R5","c":4,"w":900,"x":[-0.01,-0.02,0,0.03,0.07,0.1,0.1,0.08,0.04,0.01,0,0],"y":[0.4,0.6,0.8,1.0,1.4,1.9,2.3,2.7,3.0,3.5,4.0,5]},
{"k":"R5","c":5,"w":150,"x":[0,0,0.02,0.04,0.06,0.07,0.06,0.04,0.02,0.01,0],"y":[0,0.3,0.6,0.9,1.2,1.6,2.0,2.4,2.8,3.2,4.0]},
{"k":"R5","c":5,"w":400,"x":[0,0.03,0.07,0.1,0.11,0.1,0.07,0.04,0.02],"y":[0.3,0.6,0.9,1.3,1.7,2.1,2.6,3.0,3.4]},
{"k":"R5","c":5,"w":650,"x":[-0.01,0.03,0.07,0.1,0.11,0.09,0.06,0.03,0.01,0.01],"y":[0.35,0.6,1.0,1.4,1.9,2.3,2.8,3.2,3.6,4.05]},
{"k":"R5","c":5,"w":900,"x":[-0.01,0.04,0.08,0.11,0.12,0.1,0.07,0.04,0.03],"y":[0.4,0.6,1.0,1.5,2.0,2.4,2.9,3.3,3.4]}
]},
"spacing":2,
"resolve":{"scale":{"color":"independent"}},
"vconcat":[
{"hconcat":[
{"data":{"name":"d"},"transform":[{"filter":"datum.k=='L1'"},{"lookup":"c","from":{"data":{"name":"fr"},"key":"c","fields":["f"]}},{"flatten":["x","y"]}],"facet":{"column":{"field":"c","type":"ordinal","header":null}},"spacing":30,
 "spec":{"width":85,"height":216,"layer":[
  {"mark":{"type":"line","strokeWidth":1.1,"clip":true},"encoding":{"x":{"field":"x","type":"quantitative","scale":{"domain":[-0.2,0.2]},"axis":{"values":[-0.2,-0.1,0,0.1,0.2],"labelOverlap":false,"labelSeparation":-60},"title":"(u′w′)/u²ₘₐₓ"},"y":{"field":"y","type":"quantitative","scale":{"domain":[0,5]},"axis":{"values":[0,1,2,3,4,5]},"title":"n/δ"},"color":{"field":"w","type":"quantitative","scale":{"domain":[0,1000],"range":["#fdd58f","#fbae3e","#f68a23","#ea611d","#d4351d","#a50f1d"]},"legend":{"title":["W","m²"],"values":[0,200,400,600,800,1000],"format":"d","encode":{"title":{"update":{"angle":{"value":0}}}}}},"order":{"field":"y","type":"quantitative"}}},
  {"transform":[{"aggregate":[{"op":"count","as":"n"}],"groupby":["f"]}],"layer":[
   {"mark":{"type":"rect","fill":"white"},"encoding":{"x":{"datum":-0.11},"x2":{"datum":0.11},"y":{"datum":4.12},"y2":{"datum":4.9}}},
   {"mark":{"type":"text","text":"β = 5.7°","fontSize":12},"encoding":{"x":{"datum":0},"y":{"datum":4.68}}},
   {"mark":{"type":"text","fontSize":11},"encoding":{"x":{"datum":0},"y":{"datum":4.33},"text":{"field":"f"}}}]}]}},
{"data":{"name":"d"},"transform":[{"filter":"datum.k=='R1'"},{"lookup":"c","from":{"data":{"name":"fr"},"key":"c","fields":["f"]}},{"flatten":["x","y"]}],"facet":{"column":{"field":"c","type":"ordinal","header":null}},"spacing":30,
 "spec":{"width":85,"height":216,"layer":[
  {"mark":{"type":"line","strokeWidth":1.1,"clip":true},"encoding":{"x":{"field":"x","type":"quantitative","scale":{"domain":[-0.2,0.2]},"axis":{"values":[-0.2,-0.1,0,0.1,0.2],"labelOverlap":false,"labelSeparation":-60},"title":"(u′w′)/u²ₘₐₓ"},"y":{"field":"y","type":"quantitative","scale":{"domain":[0,5]},"axis":{"values":[0,1,2,3,4,5]},"title":"n/δ"},"color":{"field":"w","type":"quantitative","scale":{"domain":[0,1000],"range":["#fdd58f","#fbae3e","#f68a23","#ea611d","#d4351d","#a50f1d"]},"legend":{"title":["W","m²"],"values":[0,200,400,600,800,1000],"format":"d","encode":{"title":{"update":{"angle":{"value":0}}}}}},"order":{"field":"y","type":"quantitative"}}},
  {"transform":[{"aggregate":[{"op":"count","as":"n"}],"groupby":["f"]}],"layer":[
   {"mark":{"type":"rect","fill":"white"},"encoding":{"x":{"datum":-0.11},"x2":{"datum":0.11},"y":{"datum":4.12},"y2":{"datum":4.9}}},
   {"mark":{"type":"text","text":"β = 30°","fontSize":12},"encoding":{"x":{"datum":0},"y":{"datum":4.68}}},
   {"mark":{"type":"text","fontSize":11},"encoding":{"x":{"datum":0},"y":{"datum":4.33},"text":{"field":"f"}}}]}]}}
],"spacing":4,"resolve":{"scale":{"color":"independent"}}},
{"hconcat":[
{"data":{"name":"d"},"transform":[{"filter":"datum.k=='L2'"},{"lookup":"c","from":{"data":{"name":"fr"},"key":"c","fields":["f"]}},{"flatten":["x","y"]}],"facet":{"column":{"field":"c","type":"ordinal","header":null}},"spacing":30,
 "spec":{"width":85,"height":216,"layer":[
  {"mark":{"type":"line","strokeWidth":1.1,"clip":true},"encoding":{"x":{"field":"x","type":"quantitative","scale":{"domain":[-0.2,0.2]},"axis":{"values":[-0.2,-0.1,0,0.1,0.2],"labelOverlap":false,"labelSeparation":-60},"title":"(u′w′)/u²ₘₐₓ"},"y":{"field":"y","type":"quantitative","scale":{"domain":[0,5]},"axis":{"values":[0,1,2,3,4,5]},"title":"n/δ"},"color":{"field":"w","type":"quantitative","scale":{"domain":[0,1000],"range":["#fdd58f","#fbae3e","#f68a23","#ea611d","#d4351d","#a50f1d"]},"legend":{"title":["W","m²"],"values":[0,200,400,600,800,1000],"format":"d","encode":{"title":{"update":{"angle":{"value":0}}}}}},"order":{"field":"y","type":"quantitative"}}},
  {"transform":[{"aggregate":[{"op":"count","as":"n"}],"groupby":["f"]}],"layer":[
   {"mark":{"type":"rect","fill":"white"},"encoding":{"x":{"datum":-0.11},"x2":{"datum":0.11},"y":{"datum":4.12},"y2":{"datum":4.9}}},
   {"mark":{"type":"text","text":"β = 10°","fontSize":12},"encoding":{"x":{"datum":0},"y":{"datum":4.68}}},
   {"mark":{"type":"text","fontSize":11},"encoding":{"x":{"datum":0},"y":{"datum":4.33},"text":{"field":"f"}}}]}]}},
{"data":{"name":"d"},"transform":[{"filter":"datum.k=='R2'"},{"lookup":"c","from":{"data":{"name":"fr"},"key":"c","fields":["f"]}},{"flatten":["x","y"]}],"facet":{"column":{"field":"c","type":"ordinal","header":null}},"spacing":30,
 "spec":{"width":85,"height":216,"layer":[
  {"mark":{"type":"line","strokeWidth":1.1,"clip":true},"encoding":{"x":{"field":"x","type":"quantitative","scale":{"domain":[-0.2,0.2]},"axis":{"values":[-0.2,-0.1,0,0.1,0.2],"labelOverlap":false,"labelSeparation":-60},"title":"(u′w′)/u²ₘₐₓ"},"y":{"field":"y","type":"quantitative","scale":{"domain":[0,5]},"axis":{"values":[0,1,2,3,4,5]},"title":"n/δ"},"color":{"field":"w","type":"quantitative","scale":{"domain":[0,1000],"range":["#fdd58f","#fbae3e","#f68a23","#ea611d","#d4351d","#a50f1d"]},"legend":{"title":["W","m²"],"values":[0,200,400,600,800,1000],"format":"d","encode":{"title":{"update":{"angle":{"value":0}}}}}},"order":{"field":"y","type":"quantitative"}}},
  {"transform":[{"aggregate":[{"op":"count","as":"n"}],"groupby":["f"]}],"layer":[
   {"mark":{"type":"rect","fill":"white"},"encoding":{"x":{"datum":-0.11},"x2":{"datum":0.11},"y":{"datum":4.12},"y2":{"datum":4.9}}},
   {"mark":{"type":"text","text":"β = 35°","fontSize":12},"encoding":{"x":{"datum":0},"y":{"datum":4.68}}},
   {"mark":{"type":"text","fontSize":11},"encoding":{"x":{"datum":0},"y":{"datum":4.33},"text":{"field":"f"}}}]}]}}
],"spacing":4,"resolve":{"scale":{"color":"independent"}}},
{"hconcat":[
{"data":{"name":"d"},"transform":[{"filter":"datum.k=='L3'"},{"lookup":"c","from":{"data":{"name":"fr"},"key":"c","fields":["f"]}},{"flatten":["x","y"]}],"facet":{"column":{"field":"c","type":"ordinal","header":null}},"spacing":30,
 "spec":{"width":85,"height":216,"layer":[
  {"mark":{"type":"line","strokeWidth":1.1,"clip":true},"encoding":{"x":{"field":"x","type":"quantitative","scale":{"domain":[-0.2,0.2]},"axis":{"values":[-0.2,-0.1,0,0.1,0.2],"labelOverlap":false,"labelSeparation":-60},"title":"(u′w′)/u²ₘₐₓ"},"y":{"field":"y","type":"quantitative","scale":{"domain":[0,5]},"axis":{"values":[0,1,2,3,4,5]},"title":"n/δ"},"color":{"field":"w","type":"quantitative","scale":{"domain":[0,1000],"range":["#fdd58f","#fbae3e","#f68a23","#ea611d","#d4351d","#a50f1d"]},"legend":{"title":["W","m²"],"values":[0,200,400,600,800,1000],"format":"d","encode":{"title":{"update":{"angle":{"value":0}}}}}},"order":{"field":"y","type":"quantitative"}}},
  {"transform":[{"aggregate":[{"op":"count","as":"n"}],"groupby":["f"]}],"layer":[
   {"mark":{"type":"rect","fill":"white"},"encoding":{"x":{"datum":-0.11},"x2":{"datum":0.11},"y":{"datum":4.12},"y2":{"datum":4.9}}},
   {"mark":{"type":"text","text":"β = 15°","fontSize":12},"encoding":{"x":{"datum":0},"y":{"datum":4.68}}},
   {"mark":{"type":"text","fontSize":11},"encoding":{"x":{"datum":0},"y":{"datum":4.33},"text":{"field":"f"}}}]}]}},
{"data":{"name":"d"},"transform":[{"filter":"datum.k=='R3'"},{"lookup":"c","from":{"data":{"name":"fr"},"key":"c","fields":["f"]}},{"flatten":["x","y"]}],"facet":{"column":{"field":"c","type":"ordinal","header":null}},"spacing":30,
 "spec":{"width":85,"height":216,"layer":[
  {"mark":{"type":"line","strokeWidth":1.1,"clip":true},"encoding":{"x":{"field":"x","type":"quantitative","scale":{"domain":[-0.3,0.3]},"axis":{"values":[-0.3,-0.2,-0.1,0,0.1,0.2,0.3],"labelAngle":90,"labelOverlap":false,"labelSeparation":-60},"title":"(u′w′)/u²ₘₐₓ"},"y":{"field":"y","type":"quantitative","scale":{"domain":[0,5]},"axis":{"values":[0,1,2,3,4,5]},"title":"n/δ"},"color":{"field":"w","type":"quantitative","scale":{"domain":[0,1000],"range":["#fdd58f","#fbae3e","#f68a23","#ea611d","#d4351d","#a50f1d"]},"legend":{"title":["W","m²"],"values":[0,200,400,600,800,1000],"format":"d","encode":{"title":{"update":{"angle":{"value":0}}}}}},"order":{"field":"y","type":"quantitative"}}},
  {"transform":[{"aggregate":[{"op":"count","as":"n"}],"groupby":["f"]}],"layer":[
   {"mark":{"type":"rect","fill":"white"},"encoding":{"x":{"datum":-0.16},"x2":{"datum":0.16},"y":{"datum":4.12},"y2":{"datum":4.9}}},
   {"mark":{"type":"text","text":"β = 40°","fontSize":12},"encoding":{"x":{"datum":0},"y":{"datum":4.68}}},
   {"mark":{"type":"text","fontSize":11},"encoding":{"x":{"datum":0},"y":{"datum":4.33},"text":{"field":"f"}}}]}]}}
],"spacing":4,"resolve":{"scale":{"color":"independent"}}},
{"hconcat":[
{"data":{"name":"d"},"transform":[{"filter":"datum.k=='L4'"},{"lookup":"c","from":{"data":{"name":"fr"},"key":"c","fields":["f"]}},{"flatten":["x","y"]}],"facet":{"column":{"field":"c","type":"ordinal","header":null}},"spacing":30,
 "spec":{"width":85,"height":216,"layer":[
  {"mark":{"type":"line","strokeWidth":1.1,"clip":true},"encoding":{"x":{"field":"x","type":"quantitative","scale":{"domain":[-0.2,0.2]},"axis":{"values":[-0.2,-0.1,0,0.1,0.2],"labelOverlap":false,"labelSeparation":-60},"title":"(u′w′)/u²ₘₐₓ"},"y":{"field":"y","type":"quantitative","scale":{"domain":[0,5]},"axis":{"values":[0,1,2,3,4,5]},"title":"n/δ"},"color":{"field":"w","type":"quantitative","scale":{"domain":[0,1000],"range":["#fdd58f","#fbae3e","#f68a23","#ea611d","#d4351d","#a50f1d"]},"legend":{"title":["W","m²"],"values":[0,200,400,600,800,1000],"format":"d","encode":{"title":{"update":{"angle":{"value":0}}}}}},"order":{"field":"y","type":"quantitative"}}},
  {"transform":[{"aggregate":[{"op":"count","as":"n"}],"groupby":["f"]}],"layer":[
   {"mark":{"type":"rect","fill":"white"},"encoding":{"x":{"datum":-0.11},"x2":{"datum":0.11},"y":{"datum":4.12},"y2":{"datum":4.9}}},
   {"mark":{"type":"text","text":"β = 20°","fontSize":12},"encoding":{"x":{"datum":0},"y":{"datum":4.68}}},
   {"mark":{"type":"text","fontSize":11},"encoding":{"x":{"datum":0},"y":{"datum":4.33},"text":{"field":"f"}}}]}]}},
{"data":{"name":"d"},"transform":[{"filter":"datum.k=='R4'"},{"lookup":"c","from":{"data":{"name":"fr"},"key":"c","fields":["f"]}},{"flatten":["x","y"]}],"facet":{"column":{"field":"c","type":"ordinal","header":null}},"spacing":30,
 "spec":{"width":85,"height":216,"layer":[
  {"mark":{"type":"line","strokeWidth":1.1,"clip":true},"encoding":{"x":{"field":"x","type":"quantitative","scale":{"domain":[-0.2,0.2]},"axis":{"values":[-0.2,-0.1,0,0.1,0.2],"labelOverlap":false,"labelSeparation":-60},"title":"(u′w′)/u²ₘₐₓ"},"y":{"field":"y","type":"quantitative","scale":{"domain":[0,5]},"axis":{"values":[0,1,2,3,4,5]},"title":"n/δ"},"color":{"field":"w","type":"quantitative","scale":{"domain":[0,1000],"range":["#fdd58f","#fbae3e","#f68a23","#ea611d","#d4351d","#a50f1d"]},"legend":{"title":["W","m²"],"values":[0,200,400,600,800,1000],"format":"d","encode":{"title":{"update":{"angle":{"value":0}}}}}},"order":{"field":"y","type":"quantitative"}}},
  {"transform":[{"aggregate":[{"op":"count","as":"n"}],"groupby":["f"]}],"layer":[
   {"mark":{"type":"rect","fill":"white"},"encoding":{"x":{"datum":-0.11},"x2":{"datum":0.11},"y":{"datum":4.12},"y2":{"datum":4.9}}},
   {"mark":{"type":"text","text":"β = 45°","fontSize":12},"encoding":{"x":{"datum":0},"y":{"datum":4.68}}},
   {"mark":{"type":"text","fontSize":11},"encoding":{"x":{"datum":0},"y":{"datum":4.33},"text":{"field":"f"}}}]}]}}
],"spacing":4,"resolve":{"scale":{"color":"independent"}}},
{"hconcat":[
{"data":{"name":"d"},"transform":[{"filter":"datum.k=='L5'"},{"lookup":"c","from":{"data":{"name":"fr"},"key":"c","fields":["f"]}},{"flatten":["x","y"]}],"facet":{"column":{"field":"c","type":"ordinal","header":null}},"spacing":30,
 "spec":{"width":85,"height":216,"layer":[
  {"mark":{"type":"line","strokeWidth":1.1,"clip":true},"encoding":{"x":{"field":"x","type":"quantitative","scale":{"domain":[-0.2,0.2]},"axis":{"values":[-0.2,-0.1,0,0.1,0.2],"labelOverlap":false,"labelSeparation":-60},"title":"(u′w′)/u²ₘₐₓ"},"y":{"field":"y","type":"quantitative","scale":{"domain":[0,5]},"axis":{"values":[0,1,2,3,4,5]},"title":"n/δ"},"color":{"field":"w","type":"quantitative","scale":{"domain":[0,1000],"range":["#fdd58f","#fbae3e","#f68a23","#ea611d","#d4351d","#a50f1d"]},"legend":{"title":["W","m²"],"values":[0,200,400,600,800,1000],"format":"d","encode":{"title":{"update":{"angle":{"value":0}}}}}},"order":{"field":"y","type":"quantitative"}}},
  {"transform":[{"aggregate":[{"op":"count","as":"n"}],"groupby":["f"]}],"layer":[
   {"mark":{"type":"rect","fill":"white"},"encoding":{"x":{"datum":-0.11},"x2":{"datum":0.11},"y":{"datum":4.12},"y2":{"datum":4.9}}},
   {"mark":{"type":"text","text":"β = 25°","fontSize":12},"encoding":{"x":{"datum":0},"y":{"datum":4.68}}},
   {"mark":{"type":"text","fontSize":11},"encoding":{"x":{"datum":0},"y":{"datum":4.33},"text":{"field":"f"}}}]}]}},
{"data":{"name":"d"},"transform":[{"filter":"datum.k=='R5'"},{"lookup":"c","from":{"data":{"name":"fr"},"key":"c","fields":["f"]}},{"flatten":["x","y"]}],"facet":{"column":{"field":"c","type":"ordinal","header":null}},"spacing":30,
 "spec":{"width":85,"height":216,"layer":[
  {"mark":{"type":"line","strokeWidth":1.1,"clip":true},"encoding":{"x":{"field":"x","type":"quantitative","scale":{"domain":[-0.2,0.2]},"axis":{"values":[-0.2,-0.1,0,0.1,0.2],"labelOverlap":false,"labelSeparation":-60},"title":"(u′w′)/u²ₘₐₓ"},"y":{"field":"y","type":"quantitative","scale":{"domain":[0,5]},"axis":{"values":[0,1,2,3,4,5]},"title":"n/δ"},"color":{"field":"w","type":"quantitative","scale":{"domain":[0,1000],"range":["#fdd58f","#fbae3e","#f68a23","#ea611d","#d4351d","#a50f1d"]},"legend":{"title":["W","m²"],"values":[0,200,400,600,800,1000],"format":"d","encode":{"title":{"update":{"angle":{"value":0}}}}}},"order":{"field":"y","type":"quantitative"}}},
  {"transform":[{"aggregate":[{"op":"count","as":"n"}],"groupby":["f"]}],"layer":[
   {"mark":{"type":"rect","fill":"white"},"encoding":{"x":{"datum":-0.11},"x2":{"datum":0.11},"y":{"datum":4.12},"y2":{"datum":4.9}}},
   {"mark":{"type":"text","text":"βₛ = 25°","fontSize":12},"encoding":{"x":{"datum":0},"y":{"datum":4.68}}},
   {"mark":{"type":"text","fontSize":11},"encoding":{"x":{"datum":0},"y":{"datum":4.33},"text":{"field":"f"}}}]}]}}
],"spacing":4,"resolve":{"scale":{"color":"independent"}}}
]
}
